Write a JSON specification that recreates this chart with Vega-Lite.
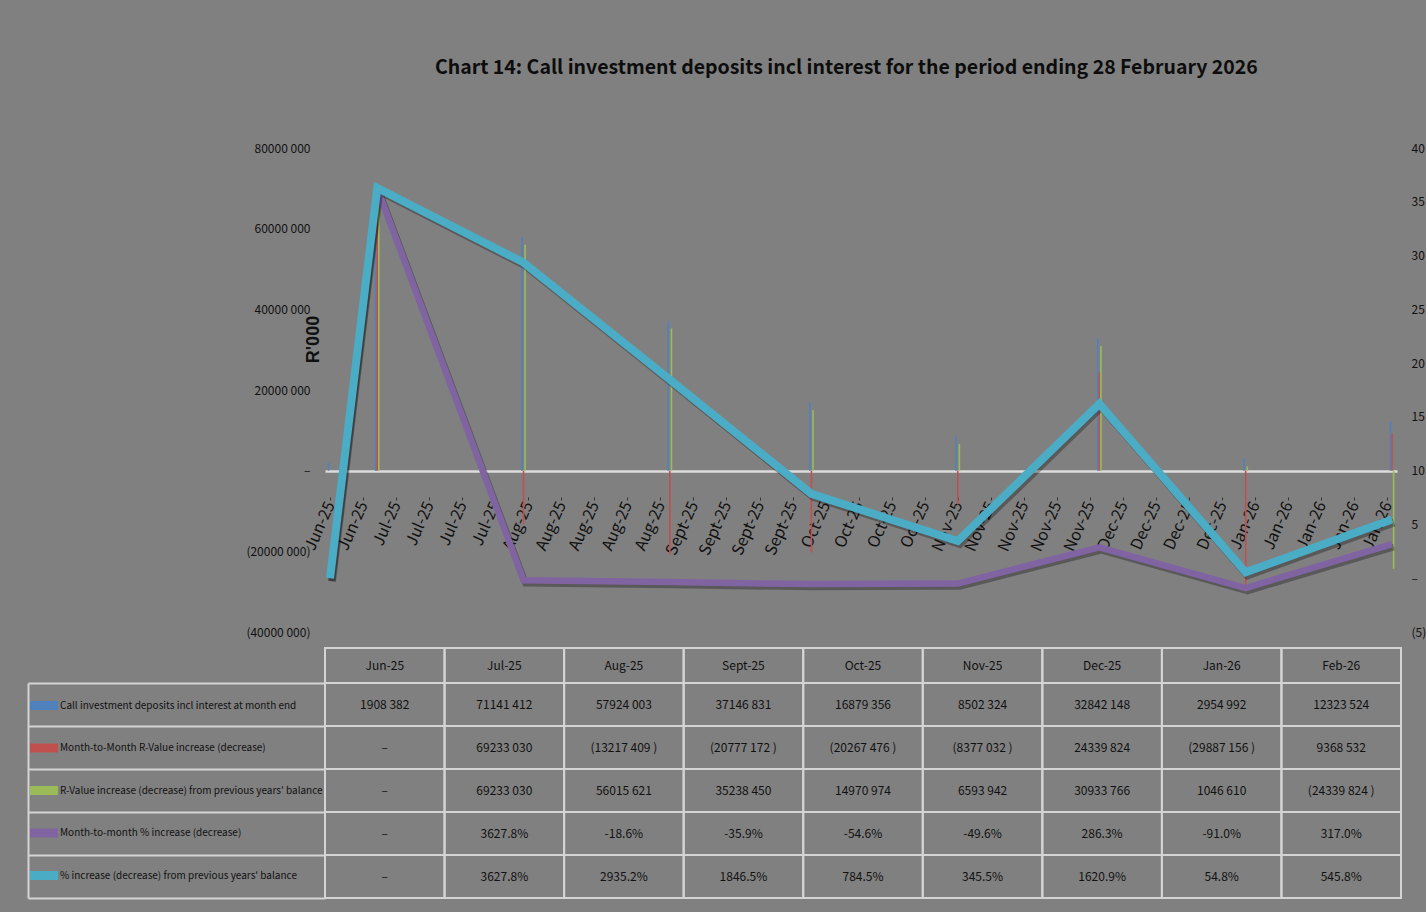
{
  "$schema": "https://vega.github.io/schema/vega-lite/v6.json",
  "background": "#808080",
  "padding": {"left": 27, "top": 58, "right": 1, "bottom": 13},
  "title": {
    "text": "Chart 14: Call investment deposits incl interest for the period ending 28 February 2026",
    "font": "Noto Sans CJK SC",
    "fontSize": 19.5,
    "fontWeight": "bold",
    "color": "#0d0d0d",
    "anchor": "middle",
    "offset": 63.5,
    "dx": 120
  },
  "config": {
    "view": {"stroke": null},
    "axis": {"labelFont": "Noto Sans CJK SC", "labelColor": "#111111"},
    "axisX": {"labelOverlap": false},
    "text": {"font": "Noto Sans CJK SC", "fontSize": 12, "color": "#111111"}
  },
  "datasets": {
    "t": [
      {"month": "Jun-25", "date": "2025-06-21T00:00:00", "series": "Call investment deposits incl interest at month end", "value": 1908382, "label": "1908 382"},
      {"month": "Jun-25", "date": "2025-06-21T00:00:00", "series": "Month-to-Month R-Value increase (decrease)", "value": 0, "label": "–"},
      {"month": "Jun-25", "date": "2025-06-21T00:00:00", "series": "R-Value increase (decrease) from previous years' balance", "value": 0, "label": "–"},
      {"month": "Jun-25", "date": "2025-06-21T00:00:00", "series": "Month-to-month % increase (decrease)", "value": 0, "label": "–"},
      {"month": "Jun-25", "date": "2025-06-21T00:00:00", "series": "% increase (decrease) from previous years' balance", "value": 0, "label": "–"},
      {"month": "Jul-25", "date": "2025-07-01T00:00:00", "series": "Call investment deposits incl interest at month end", "value": 71141412, "label": "71141 412"},
      {"month": "Jul-25", "date": "2025-07-01T00:00:00", "series": "Month-to-Month R-Value increase (decrease)", "value": 69233030, "label": "69233 030"},
      {"month": "Jul-25", "date": "2025-07-01T00:00:00", "series": "R-Value increase (decrease) from previous years' balance", "value": 69233030, "label": "69233 030"},
      {"month": "Jul-25", "date": "2025-07-01T00:00:00", "series": "Month-to-month % increase (decrease)", "value": 36.278, "label": "3627.8%"},
      {"month": "Jul-25", "date": "2025-07-01T00:00:00", "series": "% increase (decrease) from previous years' balance", "value": 36.278, "label": "3627.8%"},
      {"month": "Aug-25", "date": "2025-08-01T00:00:00", "series": "Call investment deposits incl interest at month end", "value": 57924003, "label": "57924 003"},
      {"month": "Aug-25", "date": "2025-08-01T00:00:00", "series": "Month-to-Month R-Value increase (decrease)", "value": -13217409, "label": "(13217 409 )"},
      {"month": "Aug-25", "date": "2025-08-01T00:00:00", "series": "R-Value increase (decrease) from previous years' balance", "value": 56015621, "label": "56015 621"},
      {"month": "Aug-25", "date": "2025-08-01T00:00:00", "series": "Month-to-month % increase (decrease)", "value": -0.186, "label": "-18.6%"},
      {"month": "Aug-25", "date": "2025-08-01T00:00:00", "series": "% increase (decrease) from previous years' balance", "value": 29.352, "label": "2935.2%"},
      {"month": "Sept-25", "date": "2025-09-01T00:00:00", "series": "Call investment deposits incl interest at month end", "value": 37146831, "label": "37146 831"},
      {"month": "Sept-25", "date": "2025-09-01T00:00:00", "series": "Month-to-Month R-Value increase (decrease)", "value": -20777172, "label": "(20777 172 )"},
      {"month": "Sept-25", "date": "2025-09-01T00:00:00", "series": "R-Value increase (decrease) from previous years' balance", "value": 35238450, "label": "35238 450"},
      {"month": "Sept-25", "date": "2025-09-01T00:00:00", "series": "Month-to-month % increase (decrease)", "value": -0.359, "label": "-35.9%"},
      {"month": "Sept-25", "date": "2025-09-01T00:00:00", "series": "% increase (decrease) from previous years' balance", "value": 18.465, "label": "1846.5%"},
      {"month": "Oct-25", "date": "2025-10-01T00:00:00", "series": "Call investment deposits incl interest at month end", "value": 16879356, "label": "16879 356"},
      {"month": "Oct-25", "date": "2025-10-01T00:00:00", "series": "Month-to-Month R-Value increase (decrease)", "value": -20267476, "label": "(20267 476 )"},
      {"month": "Oct-25", "date": "2025-10-01T00:00:00", "series": "R-Value increase (decrease) from previous years' balance", "value": 14970974, "label": "14970 974"},
      {"month": "Oct-25", "date": "2025-10-01T00:00:00", "series": "Month-to-month % increase (decrease)", "value": -0.546, "label": "-54.6%"},
      {"month": "Oct-25", "date": "2025-10-01T00:00:00", "series": "% increase (decrease) from previous years' balance", "value": 7.845, "label": "784.5%"},
      {"month": "Nov-25", "date": "2025-11-01T00:00:00", "series": "Call investment deposits incl interest at month end", "value": 8502324, "label": "8502 324"},
      {"month": "Nov-25", "date": "2025-11-01T00:00:00", "series": "Month-to-Month R-Value increase (decrease)", "value": -8377032, "label": "(8377 032 )"},
      {"month": "Nov-25", "date": "2025-11-01T00:00:00", "series": "R-Value increase (decrease) from previous years' balance", "value": 6593942, "label": "6593 942"},
      {"month": "Nov-25", "date": "2025-11-01T00:00:00", "series": "Month-to-month % increase (decrease)", "value": -0.496, "label": "-49.6%"},
      {"month": "Nov-25", "date": "2025-11-01T00:00:00", "series": "% increase (decrease) from previous years' balance", "value": 3.455, "label": "345.5%"},
      {"month": "Dec-25", "date": "2025-12-01T00:00:00", "series": "Call investment deposits incl interest at month end", "value": 32842148, "label": "32842 148"},
      {"month": "Dec-25", "date": "2025-12-01T00:00:00", "series": "Month-to-Month R-Value increase (decrease)", "value": 24339824, "label": "24339 824"},
      {"month": "Dec-25", "date": "2025-12-01T00:00:00", "series": "R-Value increase (decrease) from previous years' balance", "value": 30933766, "label": "30933 766"},
      {"month": "Dec-25", "date": "2025-12-01T00:00:00", "series": "Month-to-month % increase (decrease)", "value": 2.863, "label": "286.3%"},
      {"month": "Dec-25", "date": "2025-12-01T00:00:00", "series": "% increase (decrease) from previous years' balance", "value": 16.209, "label": "1620.9%"},
      {"month": "Jan-26", "date": "2026-01-01T00:00:00", "series": "Call investment deposits incl interest at month end", "value": 2954992, "label": "2954 992"},
      {"month": "Jan-26", "date": "2026-01-01T00:00:00", "series": "Month-to-Month R-Value increase (decrease)", "value": -29887156, "label": "(29887 156 )"},
      {"month": "Jan-26", "date": "2026-01-01T00:00:00", "series": "R-Value increase (decrease) from previous years' balance", "value": 1046610, "label": "1046 610"},
      {"month": "Jan-26", "date": "2026-01-01T00:00:00", "series": "Month-to-month % increase (decrease)", "value": -0.91, "label": "-91.0%"},
      {"month": "Jan-26", "date": "2026-01-01T00:00:00", "series": "% increase (decrease) from previous years' balance", "value": 0.548, "label": "54.8%"},
      {"month": "Feb-26", "date": "2026-02-01T00:00:00", "series": "Call investment deposits incl interest at month end", "value": 12323524, "label": "12323 524"},
      {"month": "Feb-26", "date": "2026-02-01T00:00:00", "series": "Month-to-Month R-Value increase (decrease)", "value": 9368532, "label": "9368 532"},
      {"month": "Feb-26", "date": "2026-02-01T00:00:00", "series": "R-Value increase (decrease) from previous years' balance", "value": -24339824, "label": "(24339 824 )"},
      {"month": "Feb-26", "date": "2026-02-01T00:00:00", "series": "Month-to-month % increase (decrease)", "value": 3.17, "label": "317.0%"},
      {"month": "Feb-26", "date": "2026-02-01T00:00:00", "series": "% increase (decrease) from previous years' balance", "value": 5.458, "label": "545.8%"}
    ]
  },
  "vconcat": [
    {
      "width": 1072,
      "height": 484,
      "data": {"name": "t"},
      "encoding": {
        "x": {
          "field": "date", "type": "temporal",
          "scale": {"domain": [{"year": 2025, "month": 6, "date": 21}, {"year": 2026, "month": 2, "date": 1}], "nice": false},
          "axis": {
            "orient": "bottom", "offset": -135, "title": null, "domain": false, "grid": false,
            "values": [
              {"year": 2025, "month": 6, "date": 21}, {"year": 2025, "month": 6, "date": 28},
              {"year": 2025, "month": 7, "date": 5}, {"year": 2025, "month": 7, "date": 12}, {"year": 2025, "month": 7, "date": 19}, {"year": 2025, "month": 7, "date": 26},
              {"year": 2025, "month": 8, "date": 2}, {"year": 2025, "month": 8, "date": 9}, {"year": 2025, "month": 8, "date": 16}, {"year": 2025, "month": 8, "date": 23}, {"year": 2025, "month": 8, "date": 30},
              {"year": 2025, "month": 9, "date": 6}, {"year": 2025, "month": 9, "date": 13}, {"year": 2025, "month": 9, "date": 20}, {"year": 2025, "month": 9, "date": 27},
              {"year": 2025, "month": 10, "date": 4}, {"year": 2025, "month": 10, "date": 11}, {"year": 2025, "month": 10, "date": 18}, {"year": 2025, "month": 10, "date": 25},
              {"year": 2025, "month": 11, "date": 1}, {"year": 2025, "month": 11, "date": 8}, {"year": 2025, "month": 11, "date": 15}, {"year": 2025, "month": 11, "date": 22}, {"year": 2025, "month": 11, "date": 29},
              {"year": 2025, "month": 12, "date": 6}, {"year": 2025, "month": 12, "date": 13}, {"year": 2025, "month": 12, "date": 20}, {"year": 2025, "month": 12, "date": 27},
              {"year": 2026, "month": 1, "date": 3}, {"year": 2026, "month": 1, "date": 10}, {"year": 2026, "month": 1, "date": 17}, {"year": 2026, "month": 1, "date": 24}, {"year": 2026, "month": 1, "date": 31}
            ],
            "labelExpr": "replace(timeFormat(datum.value, '%b-%y'), 'Sep-', 'Sept-')",
            "labelAngle": -66, "labelAlign": "right", "labelBaseline": "middle",
            "labelFontSize": 16, "labelPadding": 2,
            "labelOverlap": false, "labelBound": false, "labelFlush": false,
            "tickSize": 3, "tickColor": "#333333"
          }
        }
      },
      "layer": [
        {
          "encoding": {
            "y": {
              "field": "value", "type": "quantitative",
              "scale": {"domain": [-40000000, 80000000], "nice": false, "zero": false},
              "axis": {
                "orient": "left",
                "values": [-40000000, -20000000, 0, 20000000, 40000000, 60000000, 80000000],
                "labelExpr": "datum.value == 0 ? '–' : (datum.value > 0 ? format(datum.value / 1000, 'd') + ' 000' : '(' + format(-datum.value / 1000, 'd') + ' 000)')",
                "labelFontSize": 12, "labelPadding": 15,
                "domain": false, "ticks": false,
                "grid": true, "gridColor": "#dcdcdc", "gridWidth": 2.5,
                "gridOpacity": {"condition": {"test": "datum.value === 0", "value": 1}, "value": 0},
                "title": "R'000", "titleFont": "Liberation Sans", "titleFontSize": 18, "titleFontWeight": "bold",
                "titleColor": "#111111", "titleX": -12, "titleY": 191, "titleAngle": -90,
                "titleAlign": "center", "titleBaseline": "middle"
              }
            },
            "color": {
              "field": "series", "type": "nominal",
              "scale": {
                "domain": [
                  "Call investment deposits incl interest at month end",
                  "Month-to-Month R-Value increase (decrease)",
                  "R-Value increase (decrease) from previous years' balance",
                  "Month-to-month % increase (decrease)",
                  "% increase (decrease) from previous years' balance"
                ],
                "range": ["#4F81BD", "#C0504D", "#9BBB59", "#8064A2", "#4BACC6"]
              },
              "legend": {
                "orient": "none", "legendX": -295, "legendY": 543.5, "title": null,
                "symbolType": "M-1,-0.32H1V0.32H-1Z", "symbolSize": 784, "symbolStrokeWidth": 0,
                "labelFont": "Noto Sans CJK SC", "labelFontSize": 10, "labelColor": "#111111",
                "labelLimit": 400, "labelOffset": 2, "rowPadding": 23.5
              }
            }
          },
          "layer": [
            {"transform": [{"filter": {"field": "series", "equal": "Call investment deposits incl interest at month end"}}],
             "mark": {"type": "bar", "width": 1.6, "xOffset": -1.6}},
            {"transform": [{"filter": {"field": "series", "equal": "Month-to-Month R-Value increase (decrease)"}}],
             "mark": {"type": "bar", "width": 1.6, "xOffset": 0}},
            {"transform": [{"filter": {"field": "series", "equal": "R-Value increase (decrease) from previous years' balance"}}],
             "mark": {"type": "bar", "width": 1.6, "xOffset": 1.6}}
          ]
        },
        {
          "encoding": {
            "y": {
              "field": "value", "type": "quantitative",
              "scale": {"domain": [-5, 40], "nice": false, "zero": false},
              "axis": {
                "orient": "right",
                "values": [-5, 0, 5, 10, 15, 20, 25, 30, 35, 40],
                "labelExpr": "datum.value == 0 ? '–' : (datum.value < 0 ? '(' + format(-datum.value, 'd') + ')' : format(datum.value, 'd'))",
                "labelFontSize": 12, "labelPadding": 14,
                "domain": false, "ticks": false, "grid": false, "title": null
              }
            }
          },
          "layer": [
            {"transform": [{"filter": {"field": "series", "equal": "Month-to-month % increase (decrease)"}}],
             "mark": {"type": "line", "color": "#000000", "opacity": 0.3, "strokeWidth": 6.5, "xOffset": 2, "yOffset": 3}},
            {"transform": [{"filter": {"field": "series", "equal": "Month-to-month % increase (decrease)"}}],
             "mark": {"type": "line", "color": "#8064A2", "strokeWidth": 6.5}},
            {"transform": [{"filter": {"field": "series", "equal": "% increase (decrease) from previous years' balance"}}],
             "mark": {"type": "line", "color": "#000000", "opacity": 0.3, "strokeWidth": 8, "xOffset": 2, "yOffset": 3}},
            {"transform": [{"filter": {"field": "series", "equal": "% increase (decrease) from previous years' balance"}}],
             "mark": {"type": "line", "color": "#4BACC6", "strokeWidth": 8}}
          ]
        }
      ],
      "resolve": {"scale": {"y": "independent"}}
    },
    {
      "spacing": 0,
      "bounds": "flush",
      "vconcat": [
        {
          "width": 1076,
          "height": 35,
          "data": {"name": "t"},
          "transform": [{"filter": {"field": "series", "equal": "Call investment deposits incl interest at month end"}}],
          "encoding": {
            "x": {
              "field": "month", "type": "ordinal",
              "scale": {"domain": ["Jun-25", "Jul-25", "Aug-25", "Sept-25", "Oct-25", "Nov-25", "Dec-25", "Jan-26", "Feb-26"], "paddingInner": 0, "paddingOuter": 0},
              "axis": null
            }
          },
          "layer": [
            {"mark": {"type": "rect", "fillOpacity": 0, "stroke": "#d4d4d4", "strokeWidth": 2}},
            {"mark": {"type": "text"}, "encoding": {"text": {"field": "month"}}}
          ]
        },
        {
          "width": 1076,
          "height": 215,
          "data": {"name": "t"},
          "encoding": {
            "x": {
              "field": "month", "type": "ordinal",
              "scale": {"domain": ["Jun-25", "Jul-25", "Aug-25", "Sept-25", "Oct-25", "Nov-25", "Dec-25", "Jan-26", "Feb-26"], "paddingInner": 0, "paddingOuter": 0},
              "axis": null
            },
            "y": {
              "field": "series", "type": "nominal",
              "scale": {
                "domain": [
                  "Call investment deposits incl interest at month end",
                  "Month-to-Month R-Value increase (decrease)",
                  "R-Value increase (decrease) from previous years' balance",
                  "Month-to-month % increase (decrease)",
                  "% increase (decrease) from previous years' balance"
                ],
                "paddingInner": 0, "paddingOuter": 0
              },
              "axis": {
                "orient": "left", "offset": 297, "tickSize": -297, "tickBand": "extent",
                "labels": false, "title": null,
                "domainColor": "#d4d4d4", "domainWidth": 2, "tickColor": "#d4d4d4", "tickWidth": 2
              }
            }
          },
          "layer": [
            {"mark": {"type": "rect", "fillOpacity": 0, "stroke": "#d4d4d4", "strokeWidth": 2}},
            {"mark": {"type": "text"}, "encoding": {"text": {"field": "label"}}}
          ]
        }
      ]
    }
  ],
  "spacing": 16,
  "bounds": "flush"
}
